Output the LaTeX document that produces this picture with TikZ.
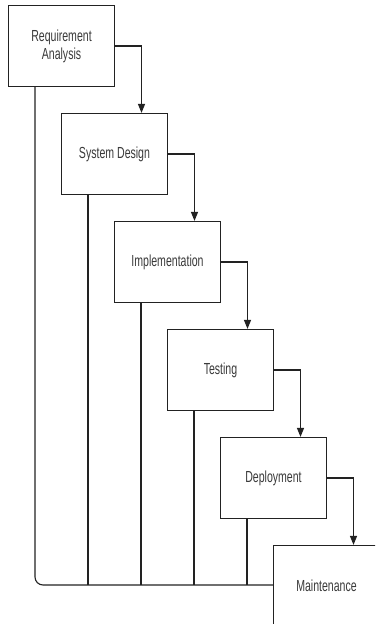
\documentclass[tikz,border=0pt]{standalone}
\usepackage{fontspec}
\setmainfont[FakeStretch=0.66]{Liberation Sans}
\usetikzlibrary{arrows.meta}
\definecolor{txt}{HTML}{3A3A3A}
\definecolor{ln}{HTML}{222222}
\begin{document}
\begin{tikzpicture}[x=1pt,y=-1pt,
  stagebox/.style={draw=ln,line width=1.2pt,fill=white,minimum width=106pt,minimum height=81pt,
    inner sep=0pt,align=center,text=txt,font=\fontsize{16pt}{18pt}\selectfont},
  flow/.style={draw=ln,line width=1.2pt,-{Triangle[length=9pt,width=7pt]}},
  drop/.style={draw=ln,line width=1.1pt}]
\clip (0,0) rectangle (375,624);
\fill[white] (0,0) rectangle (375,624);
\node[stagebox] (b1) at (61.5,46) {Requirement\\Analysis};
\node[stagebox] (b2) at (114.5,154) {System Design};
\node[stagebox] (b3) at (167.5,262) {Implementation};
\node[stagebox] (b4) at (220.5,370) {Testing};
\node[stagebox] (b5) at (273.5,478) {Deployment};
% feedback lines
\draw[drop,rounded corners=8pt] ([xshift=-26.5pt]b1.south) |- (326.5,585) coordinate (h);
\foreach \b in {b2,b3,b4,b5}{
  \draw[drop] ([xshift=-26.5pt]\b.south) -- ([xshift=-26.5pt]\b.south |- h);
}
\node[stagebox] (b6) at (326.5,586) {Maintenance};
% flow arrows
\draw[flow] (b1.east) -| ([xshift=27pt]b2.north);
\draw[flow] (b2.east) -| ([xshift=27pt]b3.north);
\draw[flow] (b3.east) -| ([xshift=27pt]b4.north);
\draw[flow] (b4.east) -| ([xshift=27pt]b5.north);
\draw[flow] (b5.east) -| ([xshift=27pt]b6.north);
\end{tikzpicture}
\end{document}
